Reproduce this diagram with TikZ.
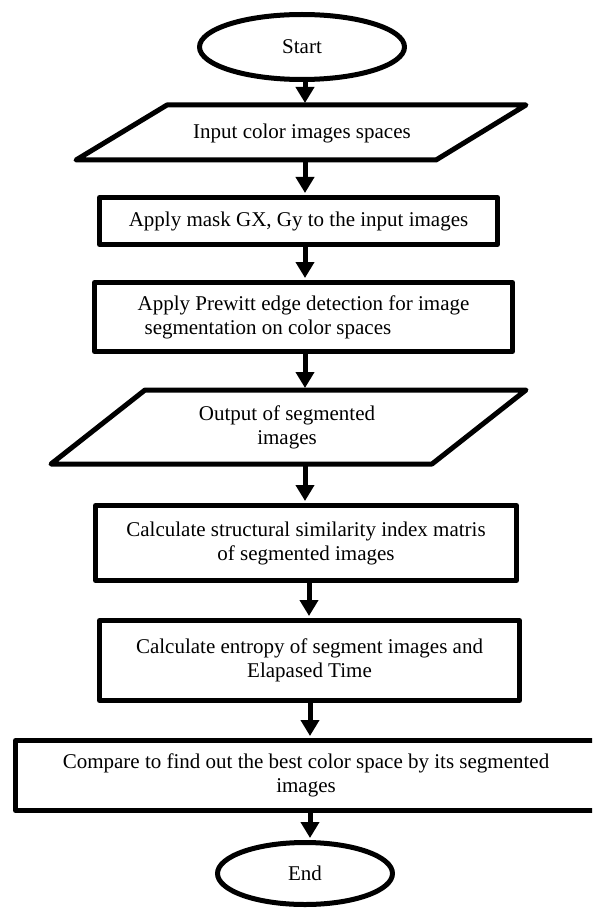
\documentclass[tikz,border=0pt]{standalone}
\usepackage{fontspec}
\setmainfont{Liberation Serif}
\usetikzlibrary{shapes.geometric,arrows.meta}
\tikzset{
  lbl/.style={align=center, inner sep=0pt, font=\fontsize{21}{24}\selectfont},
  flow/.style={lbl, draw, line width=5pt, line join=round},
  procbox/.style={flow, rectangle},
  term/.style={flow, ellipse},
  io/.style={line width=5pt, line join=round},
  arr/.style={line width=5pt, -{Triangle[width=18pt,length=16pt]}, shorten >=2pt}
}
\begin{document}
\begin{tikzpicture}[x=1pt,y=-1pt]
\useasboundingbox (0,0) rectangle (592,909);
\clip (0,0) rectangle (592,909);
\fill[white] (0,0) rectangle (592,909);

% terminals and process boxes
\node[term, minimum width=205pt, minimum height=65pt] (start) at (302,47) {Start};

\draw[io] (167,105) -- (526,105) -- (436,160) -- (76,160) -- cycle;
\coordinate (p1top) at (305,105);
\coordinate (p1bot) at (305,160);
\node[lbl] (p1) at (302,133) {Input color images spaces};

\node[procbox, minimum width=398pt, minimum height=47pt] (b2) at (298.5,221)
  {Apply mask GX, Gy to the input images};

\node[procbox, minimum width=418pt, minimum height=69pt, align=left] (b3) at (303.5,317)
  {Apply Prewitt edge detection for image\\\hspace*{7pt}segmentation on color spaces};

\draw[io] (145,390) -- (526,390) -- (432,464) -- (51,464) -- cycle;
\coordinate (p2top) at (305,390);
\coordinate (p2bot) at (305,464);
\node[lbl] (p2) at (287,427) {Output of segmented\\images};

\node[procbox, minimum width=421pt, minimum height=75pt] (b5) at (306,543)
  {Calculate structural similarity index matris\\of segmented images};

\node[procbox, minimum width=420pt, minimum height=80pt] (b6) at (309.5,660.5)
  {Calculate entropy of segment images and\\Elapased Time};

\node[procbox, minimum width=581pt, minimum height=70pt] (b7) at (306,775.5)
  {Compare to find out the best color space by its segmented\\images};

\node[term, minimum width=175pt, minimum height=62pt] (stop) at (305,873.5) {End};

% connectors
\draw[arr] (start.south -| p1top) -- (p1top);
\draw[arr] (p1bot) -- (p1bot |- b2.north);
\draw[arr] ([xshift=6.5pt]b2.south) -- ([xshift=1.5pt]b3.north);
\draw[arr] ([xshift=1.5pt]b3.south) -- (p2top);
\draw[arr] (p2bot) -- ([xshift=-1pt]b5.north);
\draw[arr] ([xshift=3pt]b5.south) -- ([xshift=-0.5pt]b6.north);
\draw[arr] ([xshift=0.5pt]b6.south) -- ([xshift=4pt]b7.north);
\draw[arr] ([xshift=4pt]b7.south) -- ([xshift=5pt]stop.north);
\end{tikzpicture}
\end{document}
